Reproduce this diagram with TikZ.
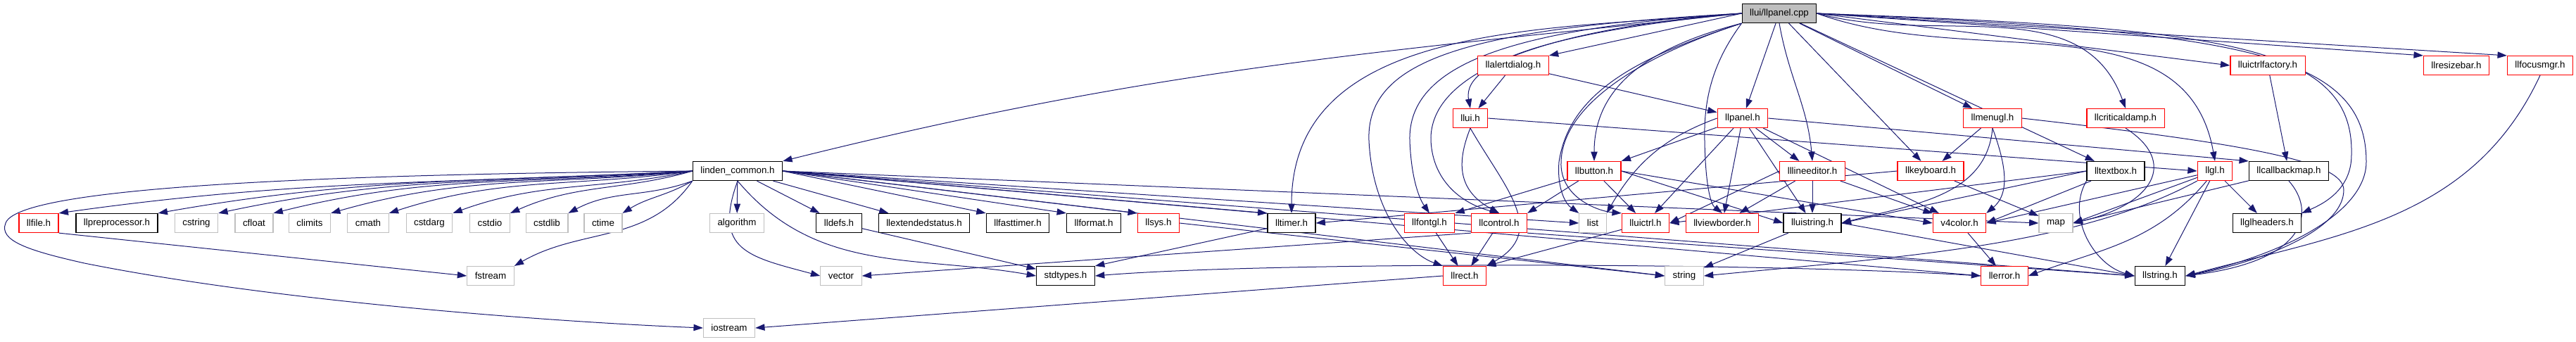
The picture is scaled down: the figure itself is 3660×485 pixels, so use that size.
\documentclass[tikz,border=0pt]{standalone}
\usepackage{fontspec}
\setmainfont{Liberation Sans}
\usetikzlibrary{arrows.meta,backgrounds}

\definecolor{edgeblue}{RGB}{25,25,112}
\definecolor{sysgray}{RGB}{191,191,191}

\tikzset{
    hdr/.style={rectangle, draw=black, fill=white, line width=0.18pt, minimum height=4.05pt,
        inner xsep=1.65pt, inner ysep=0pt, font=\fontsize{2}{2.3}\selectfont},
    trunc/.style={hdr, draw=red},
    syshdr/.style={hdr, draw=sysgray},
    curfile/.style={hdr, fill=sysgray},
    dep/.style={draw=edgeblue, line width=0.15pt, -{Triangle[length=2pt,width=1.4pt]}}
}

\begin{document}
\begin{tikzpicture}[x=0.15pt, y=0.15pt]
        \useasboundingbox (0,0) rectangle (3660,-485);

        \node [curfile] (cpp) at (2528,-19) {llui/llpanel.cpp};

        \node [trunc] (llalertdialog) at (2150,-93) {llalertdialog.h};
        \node [trunc] (lluictrlfactory) at (3222,-93) {lluictrlfactory.h};
        \node [trunc] (llresizebar) at (3490,-93) {llresizebar.h};
        \node [trunc] (llfocusmgr) at (3609,-93) {llfocusmgr.h};

        \node [trunc] (llui) at (2089,-168) {llui.h};
        \node [trunc] (llpanel) at (2476,-168) {llpanel.h};
        \node [trunc] (llmenugl) at (2831,-168) {llmenugl.h};
        \node [trunc] (llcriticaldamp) at (3020,-168) {llcriticaldamp.h};

        \node [hdr] (lc) at (1048,-243) {linden\_common.h};
        \node [trunc] (llbutton) at (2265,-243) {llbutton.h};
        \node [trunc] (lllineeditor) at (2575,-243) {lllineeditor.h};
        \node [trunc] (llkeyboard) at (2743,-243) {llkeyboard.h};
        \node [hdr] (lltextbox) at (3006,-243) {lltextbox.h};
        \node [trunc] (llgl) at (3147,-243) {llgl.h};
        \node [hdr] (llcallbackmap) at (3252,-243) {llcallbackmap.h};

        \node [trunc] (llfile) at (55,-317) {llfile.h};
        \node [hdr] (llpreprocessor) at (166,-317) {llpreprocessor.h};
        \node [syshdr] (cstring) at (279,-317) {cstring};
        \node [syshdr] (cfloat) at (361,-317) {cfloat};
        \node [syshdr] (climits) at (440,-317) {climits};
        \node [syshdr] (cmath) at (523,-317) {cmath};
        \node [syshdr] (cstdarg) at (610,-317) {cstdarg};
        \node [syshdr] (cstdio) at (696,-317) {cstdio};
        \node [syshdr] (cstdlib) at (777,-317) {cstdlib};
        \node [syshdr] (ctime) at (857,-317) {ctime};
        \node [syshdr] (algorithm) at (1047,-317) {algorithm};
        \node [hdr] (lldefs) at (1192,-317) {lldefs.h};
        \node [hdr] (llextendedstatus) at (1313,-317) {llextendedstatus.h};
        \node [hdr] (llfasttimer) at (1446,-317) {llfasttimer.h};
        \node [hdr] (llformat) at (1554,-317) {llformat.h};
        \node [trunc] (llsys) at (1646,-317) {llsys.h};
        \node [hdr] (lltimer) at (1835,-317) {lltimer.h};
        \node [trunc] (llfontgl) at (2031,-317) {llfontgl.h};
        \node [trunc] (llcontrol) at (2130,-317) {llcontrol.h};
        \node [syshdr] (list) at (2263,-317) {list};
        \node [trunc] (lluictrl) at (2338,-317) {lluictrl.h};
        \node [trunc] (llviewborder) at (2447,-317) {llviewborder.h};
        \node [hdr] (lluistring) at (2575,-317) {lluistring.h};
        \node [trunc] (v4color) at (2784,-317) {v4color.h};
        \node [syshdr] (map) at (2921,-317) {map};
        \node [hdr] (llglheaders) at (3221,-317) {llglheaders.h};

        \node [syshdr] (fstream) at (697,-392) {fstream};
        \node [syshdr] (vector) at (1195,-392) {vector};
        \node [hdr] (stdtypes) at (1514,-392) {stdtypes.h};
        \node [trunc] (llrect) at (2081,-392) {llrect.h};
        \node [syshdr] (string) at (2393,-392) {string};
        \node [trunc] (llerror) at (2848,-392) {llerror.h};
        \node [hdr] (llstring) at (3069,-392) {llstring.h};

        \node [syshdr] (iostream) at (1036,-466) {iostream};

        \begin{pgfonlayer}{background}
        \draw [dep] (cpp.west) to[out=186,in=14] (lc.north east);
        \draw [dep] (cpp.west) to[out=185,in=90] (lltimer.north);
        \draw [dep] (cpp.west) .. controls (2100,-40) and (1940,-80) .. (1945,-200) .. controls (1950,-300) and (2000,-360) .. (llrect.north west);
        \draw [dep] (cpp.west) .. controls (2150,-40) and (2000,-90) .. (2003,-200) .. controls (2005,-250) and (2015,-280) .. (llfontgl.north);
        \draw [dep] (cpp.west) .. controls (2200,-40) and (2030,-100) .. (2033,-200) .. controls (2036,-260) and (2080,-290) .. (llcontrol.north);
        \draw [dep] (cpp.west) .. controls (2250,-40) and (2075,-80) .. (llui.north);
        \draw [dep] (cpp.west) -- (llalertdialog.north east);
        \draw [dep] (cpp.south west) .. controls (2330,-80) and (2230,-130) .. (2215,-230) .. controls (2212,-270) and (2225,-290) .. (list.north west);
        \draw [dep] (cpp.south west) .. controls (2330,-80) and (2220,-150) .. (2218,-230) .. controls (2216,-280) and (2270,-300) .. (lluictrl.north west);
        \draw [dep] (cpp.south west) .. controls (2330,-70) and (2265,-130) .. (llbutton.north);
        \draw [dep] (cpp.south west) .. controls (2440,-80) and (2420,-130) .. (2422,-200) .. controls (2423,-260) and (2430,-290) .. (llviewborder.north);
        \draw [dep] (cpp) -- (llpanel);
        \draw [dep] (cpp.south) to[out=-80,in=95] (lllineeditor.north);
        \draw [dep] (cpp) -- (llkeyboard);
        \draw [dep] (cpp) -- (llmenugl);
        \draw [dep] (cpp) -- (lltextbox);
        \draw [dep] (cpp.east) to[out=-15,in=110] (llcriticaldamp.north);
        \draw [dep] (cpp.east) to[out=-20,in=100] (llgl.north);
        \draw [dep] (cpp.east) -- (lluictrlfactory.west);
        \draw [dep] (cpp.east) -- (llresizebar.north west);
        \draw [dep] (cpp.east) -- (llfocusmgr.north west);
        \draw [dep] (cpp.east) .. controls (3150,-40) and (3345,-60) .. (3341,-220) .. controls (3341,-270) and (3300,-290) .. (llglheaders.north east);
        \draw [dep] (cpp.east) .. controls (3170,-45) and (3362,-70) .. (3362,-230) .. controls (3362,-300) and (3250,-360) .. (llstring.east);

        \draw [dep] (lc.west) to[out=183,in=8] (llfile.north east);
        \draw [dep] (lc.west) to[out=183,in=10] (llpreprocessor.north east);
        \draw [dep] (lc.west) to[out=184,in=12] (cstring.north east);
        \draw [dep] (lc.west) to[out=185,in=14] (cfloat.north east);
        \draw [dep] (lc.west) to[out=186,in=16] (climits.north east);
        \draw [dep] (lc.west) to[out=188,in=18] (cmath.north east);
        \draw [dep] (lc.west) to[out=192,in=20] (cstdarg.north east);
        \draw [dep] (lc.west) to[out=196,in=24] (cstdio.north east);
        \draw [dep] (lc.south west) to[out=200,in=28] (cstdlib.north east);
        \draw [dep] (lc.south west) to[out=210,in=32] (ctime.north east);
        \draw [dep] (lc.west) .. controls (420,-248) and (25,-268) .. (8,-317) .. controls (-2,-342) and (40,-356) .. (120,-374) .. controls (400,-430) and (800,-458) .. (iostream.west);
        \draw [dep] (lc.south west) to[out=235,in=30] (fstream.north east);
        \draw [dep] (lc) -- (algorithm);
        \draw [dep] (lc.south) to[out=250,in=165,looseness=1.5] (vector.west);
        \draw [dep] (lc.south) to[out=-50,in=170] (stdtypes.west);
        \draw [dep] (lc) -- (lldefs);
        \draw [dep] (lc) -- (llextendedstatus);
        \draw [dep] (lc.east) -- (llfasttimer.north west);
        \draw [dep] (lc.east) -- (llformat.north west);
        \draw [dep] (lc.east) -- (llsys.north west);
        \draw [dep] (lc.east) -- (lltimer.north west);
        \draw [dep] (lc.east) -- (list.west);
        \draw [dep] (lc.east) -- (string.west);
        \draw [dep] (lc.east) -- (map.west);
        \draw [dep] (lc.east) -- (llerror.west);
        \draw [dep] (lc.east) -- (llstring.west);

        \draw [dep] (llalertdialog) -- (llui);
        \draw [dep] (llalertdialog) -- (llpanel);

        \draw [dep] (llui.east) -- (llgl.west);
        \draw [dep] (llui.south) .. controls (2070,-230) and (2070,-270) .. (llcontrol.north);
        \draw [dep] (llui.south) to[out=-60,in=30,looseness=1.3] (llrect.north east);

        \draw [dep] (llpanel) -- (llbutton.north east);
        \draw [dep] (llpanel) -- (lllineeditor);
        \draw [dep] (llpanel) -- (lluictrl);
        \draw [dep] (llpanel) -- (llviewborder);
        \draw [dep] (llpanel) -- (lluistring);
        \draw [dep] (llpanel) -- (v4color);
        \draw [dep] (llpanel.east) -- (llcallbackmap.north west);
        \draw [dep] (llpanel.west) to[out=200,in=60] (list.north east);

        \draw [dep] (llmenugl) -- (llkeyboard);
        \draw [dep] (llmenugl.south) to[out=-95,in=15] (lluistring.east);
        \draw [dep] (llmenugl.south) to[out=-70,in=40] (v4color.north east);
        \draw [dep] (llmenugl.east) .. controls (3200,-205) and (3330,-230) .. (3330,-270) .. controls (3330,-330) and (3200,-375) .. (llstring.east);

        \draw [dep] (llcriticaldamp.south) .. controls (3095,-230) and (3060,-290) .. (map.east);

        \draw [dep] (llkeyboard) -- (map);
        \draw [dep] (llkeyboard.west) -- (lltimer.east);

        \draw [dep] (lllineeditor) -- (lluistring);
        \draw [dep] (lllineeditor) -- (llviewborder);
        \draw [dep] (lllineeditor) -- (v4color);
        \draw [dep] (lllineeditor.west) -- (lluictrl.east);

        \draw [dep] (lltextbox.west) -- (lluictrl.east);
        \draw [dep] (lltextbox.west) -- (lluistring.east);
        \draw [dep] (lltextbox) -- (v4color.east);
        \draw [dep] (lltextbox.south west) to[out=-120,in=165] (llstring.west);

        \draw [dep] (llgl) -- (llglheaders);
        \draw [dep] (llgl) -- (llstring);
        \draw [dep] (llgl) -- (map.east);
        \draw [dep] (llgl) -- (v4color.east);
        \draw [dep] (llgl) to[out=-130,in=20] (llerror.east);
        \draw [dep] (llgl.south west) .. controls (2950,-350) and (2700,-365) .. (string.east);

        \draw [dep] (llcallbackmap) -- (map.east);
        \draw [dep] (llcallbackmap.south) .. controls (3290,-300) and (3280,-370) .. (llstring.east);

        \draw [dep] (lluictrlfactory) -- (llcallbackmap);

        \draw [dep] (llfocusmgr.south) to[out=-115,in=15] (llstring.east);

        \draw [dep] (llbutton) -- (llfontgl.north east);
        \draw [dep] (llbutton) -- (llcontrol.north east);
        \draw [dep] (llbutton) -- (lluictrl);
        \draw [dep] (llbutton.east) -- (lluistring.west);
        \draw [dep] (llbutton.east) -- (v4color.west);

        \draw [dep] (llfontgl) -- (llrect);
        \draw [dep] (llcontrol) -- (llrect);
        \draw [dep] (lluictrl) -- (llrect.north east);
        \draw [dep] (llcontrol.south west) -- (vector.east);
        \draw [dep] (llcontrol.south east) -- (llstring.west);

        \draw [dep] (lluistring) -- (string);
        \draw [dep] (lluistring.east) -- (llstring.west);

        \draw [dep] (v4color) -- (llerror);
        \draw [dep] (llerror.west) .. controls (2500,-372) and (1800,-372) .. (stdtypes.east);

        \draw [dep] (llsys.east) -- (string.west);
        \draw [dep] (lldefs) -- (stdtypes);
        \draw [dep] (lltimer) -- (stdtypes.north east);
        \draw [dep] (llfile.south east) -- (fstream.west);
        \draw [dep] (llrect.west) -- (iostream.east);
        \end{pgfonlayer}
    \end{tikzpicture}
\end{document}
